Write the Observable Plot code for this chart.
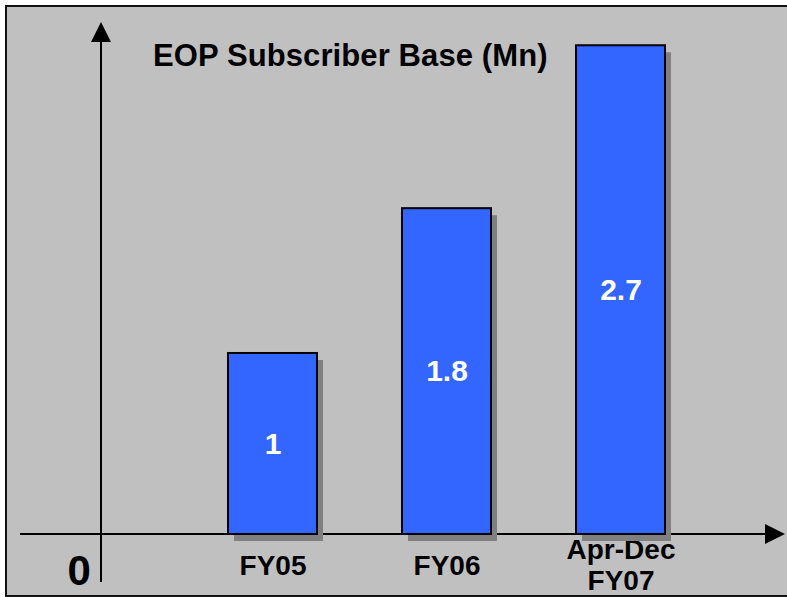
<!DOCTYPE html>
<html>
<head>
<meta charset="utf-8">
<script src="https://cdn.jsdelivr.net/npm/d3@7"></script>
<script src="https://cdn.jsdelivr.net/npm/@observablehq/plot@0.6"></script>
<style>
  html, body { margin: 0; padding: 0; background: #ffffff; }
  #wrap { position: relative; width: 787px; height: 597px; overflow: hidden; font-family: "Liberation Sans", Arial, sans-serif; }
  #panel { position: absolute; left: 5px; top: 5px; width: 800px; height: 588px; background: #c0c0c0; border: 2px solid #111; }
  #title { position: absolute; left: 153px; top: 38px; font-size: 31px; font-weight: bold; color: #000; white-space: nowrap; letter-spacing: 0.1px; }
  #chart { position: absolute; left: 0; top: 0; }
</style>
</head>
<body>
<div id="wrap">
  <div id="panel"></div>
  <div id="chart"></div>
  <div id="title">EOP Subscriber Base (Mn)</div>
</div>
<script>
const categories = ["FY05", "FY06", "Apr-Dec\nFY07"];
const values = [1, 1.8, 2.7];
const valueLabels = ["1", "1.8", "2.7"];
const originLabel = ["0"];

const data = categories.map((c, i) => ({category: c, value: values[i], label: valueLabels[i]}));

const W = 787, H = 597;
const plot = Plot.plot({
  width: W,
  height: H,
  marginLeft: 142,
  marginRight: 35,
  marginTop: 0,
  marginBottom: 63,
  style: {background: "transparent", color: "#000", fontFamily: "'Liberation Sans', Arial, sans-serif", overflow: "visible"},
  x: {domain: categories, padding: 0.486, label: null},
  y: {domain: [0, 2.95], axis: null},
  marks: [
    Plot.axisX({anchor: "bottom", tickSize: 0, tickPadding: 30, lineAnchor: "middle", lineHeight: 1.12, fontSize: 28, fontWeight: "bold", label: null}),
    Plot.barY(data, {x: "category", y: "value", fill: "#808080", dx: 6, dy: 7}),
    Plot.barY(data, {x: "category", y: "value", fill: "#3366ff", stroke: "#000", strokeWidth: 2}),
    Plot.text(data, {x: "category", y: d => d.value / 2, text: "label", fill: "#ffffff", fontSize: 30, fontWeight: "bold"}),
    Plot.text(originLabel, {text: d => d, frameAnchor: "bottom-left", dx: -75, dy: 50, fontSize: 42, fontWeight: "bold", fill: "#000", lineAnchor: "bottom"})
  ]
});

// Axis arrows (decoration) placed at the zero baseline from the y scale
const y0 = plot.scale("y").apply(0);
const svg = d3.select(plot);
const g = svg.insert("g", ":scope > g");
const axX = 101;
g.append("line").attr("x1", axX).attr("x2", axX).attr("y1", 40).attr("y2", 582).attr("stroke", "#000").attr("stroke-width", 2);
g.append("path").attr("d", `M${axX},22 L${axX - 10},42 L${axX + 10},42 Z`).attr("fill", "#000");
g.append("line").attr("x1", 20).attr("x2", 768).attr("y1", y0).attr("y2", y0).attr("stroke", "#000").attr("stroke-width", 2);
g.append("path").attr("d", `M785,${y0} L765,${y0 - 10} L765,${y0 + 10} Z`).attr("fill", "#000");

document.getElementById("chart").appendChild(plot);
</script>
</body>
</html>
